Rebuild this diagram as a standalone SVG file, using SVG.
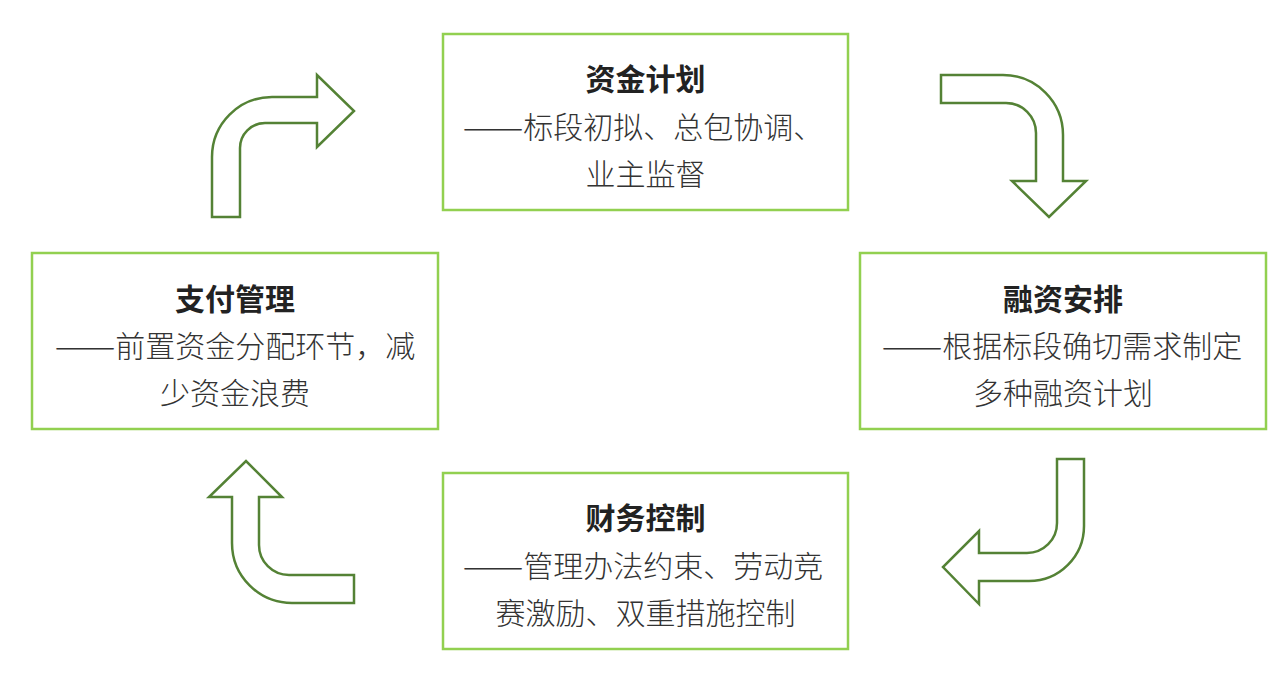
<svg xmlns="http://www.w3.org/2000/svg" width="1287" height="691" viewBox="0 0 1287 691">
<style>
.box{fill:#fff;stroke:#92d050;stroke-width:2.5}
.arr{fill:#fff;stroke:#548235;stroke-width:2.5;stroke-linejoin:miter}
.t{font-family:"Noto Sans CJK SC","Noto Sans",sans-serif;font-size:30px;fill:#333;text-anchor:middle;font-weight:300}
.b{font-weight:bold;fill:#222}
.d{font-size:36.5px}
</style>
<rect width="1287" height="691" fill="#fff"/>
<g id="connectors">
<path class="arr" d="M 212,217 L 212,157 A 60 60 0 0 1 272,97 L 317,97 L 317,75 L 354,111 L 317,147 L 317,123 L 265,123 A 25 25 0 0 0 240,148 L 240,217 Z"/>
<path class="arr" d="M 941,75 L 1003,75 A 60 60 0 0 1 1063,135 L 1063,181 L 1086,181 L 1049,217 L 1012,181 L 1036,181 L 1036,133 A 30 30 0 0 0 1006,103 L 941,103 Z"/>
<path class="arr" d="M 1057,459 L 1084,459 L 1084,526 A 55 55 0 0 1 1029,581 L 979,581 L 979,604 L 943,567 L 979,531 L 979,553 L 1027,553 A 30 30 0 0 0 1057,523 Z"/>
<path class="arr" d="M 354,575 L 354,603 L 292,603 A 60 60 0 0 1 232,543 L 232,497 L 209,497 L 246,461 L 282,497 L 259,497 L 259,545 A 30 30 0 0 0 289,575 Z"/>
</g>
<g id="plan">
<rect class="box" x="443" y="34" width="405" height="176"/>
<text class="t b" x="645.5" y="90">资金计划</text>
<text class="t" x="643" y="138"><tspan class="d" dy="2">——</tspan><tspan dy="-2">标段初拟、总包协调、</tspan></text>
<text class="t" x="645.5" y="185">业主监督</text>
</g>
<g id="financing">
<rect class="box" x="860" y="253" width="406" height="176"/>
<text class="t b" x="1063" y="310">融资安排</text>
<text class="t" x="1062" y="357"><tspan class="d" dy="2">——</tspan><tspan dy="-2">根据标段确切需求制定</tspan></text>
<text class="t" x="1063" y="404">多种融资计划</text>
</g>
<g id="control">
<rect class="box" x="443" y="473" width="405" height="176"/>
<text class="t b" x="645.5" y="529">财务控制</text>
<text class="t" x="643" y="577"><tspan class="d" dy="2">——</tspan><tspan dy="-2">管理办法约束、劳动竞</tspan></text>
<text class="t" x="645.5" y="624">赛激励、双重措施控制</text>
</g>
<g id="payment">
<rect class="box" x="32" y="253" width="406" height="176"/>
<text class="t b" x="235" y="310">支付管理</text>
<text class="t" x="235" y="357"><tspan class="d" dy="2">——</tspan><tspan dy="-2">前置资金分配环节，减</tspan></text>
<text class="t" x="235" y="404">少资金浪费</text>
</g>
</svg>
